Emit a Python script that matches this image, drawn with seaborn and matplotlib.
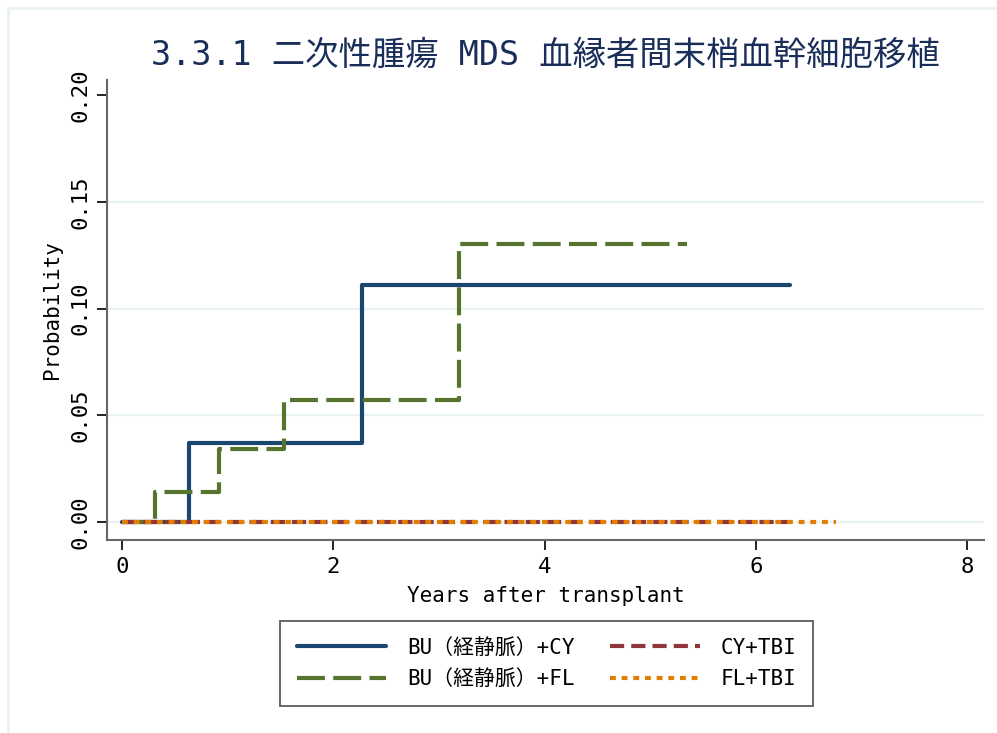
import numpy as np
import pandas as pd
import matplotlib
matplotlib.use('Agg')
import matplotlib.pyplot as plt
from matplotlib.lines import Line2D
import seaborn as sns

# ---- data ----
labels = ['BU（経静脈）+CY', 'BU（経静脈）+FL', 'CY+TBI', 'FL+TBI']
colors = ['#1a476f', '#55752f', '#90353b', '#e37e00']

bucy_years = [0.0, 0.64, 2.27, 6.32]
bucy_prob  = [0.0, 0.037, 0.111, 0.111]

bufl_years = [0.0, 0.31, 0.92, 1.53, 3.19, 5.35]
bufl_prob  = [0.0, 0.014, 0.034, 0.057, 0.130, 0.130]

cytbi_years = [0.0, 6.30]
cytbi_prob  = [0.0, 0.0]

fltbi_years = [0.0, 6.76]
fltbi_prob  = [0.0, 0.0]

x_ticks = [0, 2, 4, 6, 8]
y_ticks = [0.00, 0.05, 0.10, 0.15, 0.20]
grid_vals = [0.00, 0.05, 0.10, 0.15]

title = '3.3.1 二次性腫瘍 MDS 血縁者間末梢血幹細胞移植'

# ---- style ----
sns.set_style('white')
plt.rcParams['font.family'] = ['DejaVu Sans Mono', 'Noto Sans CJK JP']
plt.rcParams['text.color'] = 'black'
plt.rcParams['axes.labelcolor'] = 'black'
plt.rcParams['xtick.color'] = 'black'
plt.rcParams['ytick.color'] = 'black'

series = [
    (bucy_years, bucy_prob, '-'),
    (bufl_years, bufl_prob, (0, (6.7, 2.0))),
    (cytbi_years, cytbi_prob, (0, (3.4, 1.7))),
    (fltbi_years, fltbi_prob, (0, (1.4, 1.4))),
]

fig = plt.figure(figsize=(9.97, 7.33), dpi=100)
ax = fig.add_axes([0.1073, 0.2633, 0.880, 0.6275])

# light background gridlines
for g in grid_vals:
    ax.axhline(g, color='#eaf2f3', lw=1.6, zorder=0)

handles = []
for (xs, ys, ls), lab, col in zip(series, labels, colors):
    df = pd.DataFrame({'years': xs, 'prob': ys})
    sns.lineplot(data=df, x='years', y='prob', ax=ax, color=col, lw=3,
                 linestyle=ls, drawstyle='steps-post', estimator=None,
                 solid_capstyle='round', dash_capstyle='butt')
    handles.append(Line2D([], [], color=col, lw=3, linestyle=ls, label=lab))

ax.set_xlim(-0.14, 8.16)
ax.set_ylim(-0.0084, 0.207)
ax.set_xticks(x_ticks)
ax.set_yticks(y_ticks)
ax.set_yticklabels([f'{v:.2f}' for v in y_ticks], rotation=90, va='center')
ax.tick_params(axis='both', direction='out', length=7, width=1.2,
               bottom=True, left=True, color='black', labelcolor='black',
               labelsize=16, pad=5)

for side in ['top', 'right']:
    ax.spines[side].set_visible(False)
for side in ['left', 'bottom']:
    ax.spines[side].set_color('#666666')
    ax.spines[side].set_linewidth(1.5)

ax.set_xlabel('Years after transplant', fontsize=15, labelpad=7)
ax.set_ylabel('Probability', fontsize=15, labelpad=6)

fig.text(0.547, 0.925, title, fontsize=24, color='#1a2e5a',
         ha='center', va='center')

leg = fig.legend(handles=handles, ncol=2, loc='upper center',
                 bbox_to_anchor=(0.548, 0.153), fontsize=15, frameon=True,
                 fancybox=False, handlelength=4.3, handletextpad=1.0,
                 columnspacing=1.7, borderpad=0.8, labelspacing=0.55,
                 borderaxespad=0)
leg.get_frame().set_edgecolor('#333333')
leg.get_frame().set_linewidth(1.3)

# faint outer frame (top and left edges)
fig.add_artist(Line2D([0.008, 1.0], [0.989, 0.989], color='#eaf2f3', lw=2,
                      transform=fig.transFigure))
fig.add_artist(Line2D([0.008, 0.008], [0.0, 0.989], color='#eaf2f3', lw=2,
                      transform=fig.transFigure))

fig.savefig('out.png', dpi=100)
